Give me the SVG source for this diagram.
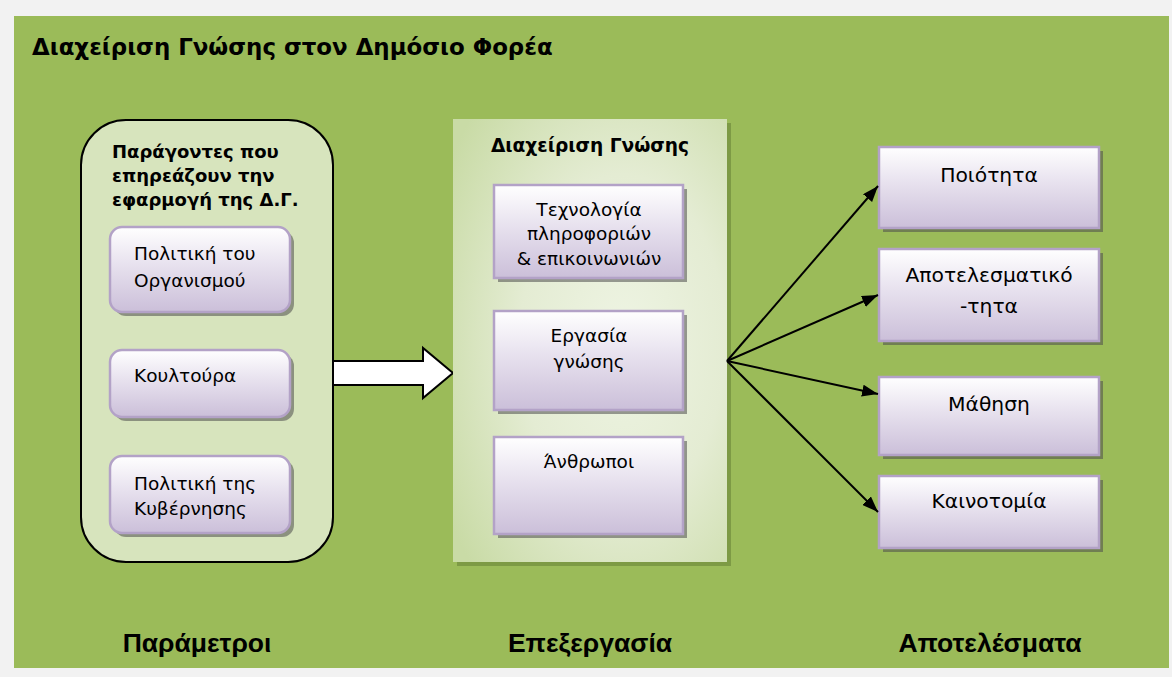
<svg xmlns="http://www.w3.org/2000/svg" width="1172" height="677" viewBox="0 0 1172 677">
<defs>
<linearGradient id="purple" x1="0" y1="0" x2="0" y2="1">
<stop offset="0" stop-color="#ffffff"/>
<stop offset="0.45" stop-color="#e7e1ee"/>
<stop offset="1" stop-color="#cbbfd9"/>
</linearGradient>
<radialGradient id="panel" cx="0.62" cy="0.5" r="0.75">
<stop offset="0" stop-color="#eef4e3"/>
<stop offset="0.5" stop-color="#e4ecd3"/>
<stop offset="1" stop-color="#c9dba6"/>
</radialGradient>
<marker id="ah" viewBox="0 0 16 12" refX="16" refY="6" markerWidth="16" markerHeight="12" markerUnits="userSpaceOnUse" orient="auto">
<path d="M0,0 L16,6 L0,12 Z" fill="#000"/>
</marker>
</defs>
<style>
.t{font-family:"DejaVu Sans",Verdana,sans-serif;fill:#000}
.b{font-weight:bold}
.lb{font-family:"Liberation Sans",Arial,sans-serif;font-weight:bold;font-size:26.5px;fill:#000}
.box{fill:url(#purple);stroke:#b3a2c7;stroke-width:2.5}
.sh{fill:#4d4d4d;opacity:0.55}
.bt{font-size:18.5px}
.rt{font-size:20.3px}
.conn{stroke:#000;stroke-width:2;fill:none;marker-end:url(#ah)}
</style>
<rect x="0" y="0" width="1172" height="677" fill="#f2f2f2"/>
<rect x="14" y="16" width="1155" height="652" fill="#9bbb59"/>
<text class="t b" x="32" y="55" font-size="22.9">Διαχείριση Γνώσης στον Δημόσιο Φορέα</text>

<g id="parametroi">
<rect x="81" y="120" width="252" height="442" rx="45" fill="#d7e4bd" stroke="#000" stroke-width="2"/>
<text class="t b" font-size="18"><tspan x="112" y="158">Παράγοντες που</tspan><tspan x="112" y="182">επηρεάζουν την</tspan><tspan x="112" y="206">εφαρμογή της Δ.Γ.</tspan></text>
</g>
<g id="politiki-organismou">
<rect class="sh" x="114" y="231" width="180" height="85" rx="12"/>
<rect class="box" x="110" y="227" width="180" height="85" rx="12"/>
<text class="t bt"><tspan x="134" y="260">Πολιτική του</tspan><tspan x="134" y="287">Οργανισμού</tspan></text>
</g>
<g id="koultoura">
<rect class="sh" x="114" y="354" width="180" height="67" rx="12"/>
<rect class="box" x="110" y="350" width="180" height="67" rx="12"/>
<text class="t bt" x="134" y="382">Κουλτούρα</text>
</g>
<g id="politiki-kyvernisis">
<rect class="sh" x="114" y="460" width="180" height="77" rx="12"/>
<rect class="box" x="110" y="456" width="180" height="77" rx="12"/>
<text class="t bt"><tspan x="134" y="490">Πολιτική της</tspan><tspan x="134" y="515">Κυβέρνησης</tspan></text>
</g>

<g id="block-arrow">
<polygon points="333,361 423,361 423,348 453,373 423,398 423,385 333,385" fill="#fff" stroke="#000" stroke-width="2" stroke-linejoin="miter"/>
</g>

<g id="diaxeirisi">
<rect x="457" y="123" width="274" height="443" fill="#7d9a45"/>
<rect x="453" y="119" width="274" height="443" fill="url(#panel)"/>
<text class="t b" x="590" y="152" font-size="18.6" text-anchor="middle">Διαχείριση Γνώσης</text>
</g>
<g id="texnologia">
<rect class="sh" x="498" y="189" width="189" height="93"/>
<rect class="box" x="494" y="185" width="189" height="93"/>
<text class="t bt" text-anchor="middle"><tspan x="589" y="216">Τεχνολογία</tspan><tspan x="589" y="240">πληροφοριών</tspan><tspan x="589" y="265">&amp; επικοινωνιών</tspan></text>
</g>
<g id="ergasia">
<rect class="sh" x="498" y="315" width="189" height="99"/>
<rect class="box" x="494" y="311" width="189" height="99"/>
<text class="t bt" text-anchor="middle"><tspan x="589" y="342">Εργασία</tspan><tspan x="589" y="368">γνώσης</tspan></text>
</g>
<g id="anthropoi">
<rect class="sh" x="498" y="441" width="189" height="97"/>
<rect class="box" x="494" y="437" width="189" height="97"/>
<text class="t bt" x="589" y="468" text-anchor="middle">Άνθρωποι</text>
</g>

<g id="poiotita">
<rect class="sh" x="883" y="151" width="220" height="81"/>
<rect class="box" x="879" y="147" width="220" height="81"/>
<text class="t rt" x="989" y="182" text-anchor="middle">Ποιότητα</text>
</g>
<g id="apotelesmatikotita">
<rect class="sh" x="883" y="253" width="220" height="92"/>
<rect class="box" x="879" y="249" width="220" height="92"/>
<text class="t rt" text-anchor="middle"><tspan x="989" y="282">Αποτελεσματικό</tspan><tspan x="989" y="313">-τητα</tspan></text>
</g>
<g id="mathisi">
<rect class="sh" x="883" y="381" width="220" height="78"/>
<rect class="box" x="879" y="377" width="220" height="78"/>
<text class="t rt" x="989" y="411" text-anchor="middle">Μάθηση</text>
</g>
<g id="kainotomia">
<rect class="sh" x="883" y="480" width="220" height="72"/>
<rect class="box" x="879" y="476" width="220" height="72"/>
<text class="t rt" x="989" y="508" text-anchor="middle">Καινοτομία</text>
</g>

<g id="connectors">
<line class="conn" x1="727" y1="361" x2="878" y2="186"/>
<line class="conn" x1="727" y1="361" x2="878" y2="295"/>
<line class="conn" x1="727" y1="361" x2="878" y2="394"/>
<line class="conn" x1="727" y1="361" x2="878" y2="512"/>
</g>

<g id="labels">
<text class="lb" x="197" y="652" text-anchor="middle">Παράμετροι</text>
<text class="lb" x="590" y="652" text-anchor="middle">Επεξεργασία</text>
<text class="lb" x="990" y="652" text-anchor="middle">Αποτελέσματα</text>
</g>
</svg>
